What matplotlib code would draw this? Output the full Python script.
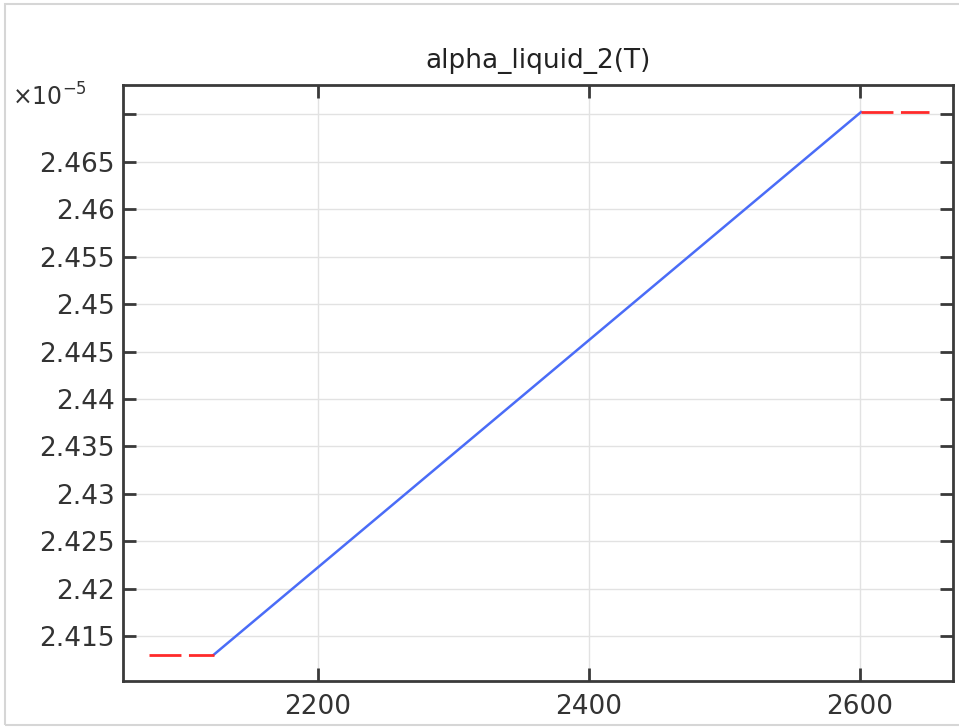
import matplotlib.pyplot as plt
from matplotlib.patches import Rectangle

# temperature breakpoints (K) and alpha values (x1e-5 1/K)
T_low = [2075, 2123]
T_mid = [2123, 2601]
T_high = [2601, 2651]
alpha_low = [2.41303, 2.41303]
alpha_mid = [2.41303, 2.47024]
alpha_high = [2.47024, 2.47024]

xticks = [2200, 2400, 2600]
yticks = [2.415, 2.42, 2.425, 2.43, 2.435, 2.44, 2.445, 2.45, 2.455, 2.46, 2.465, 2.47]
yticklabels = ["2.415", "2.42", "2.425", "2.43", "2.435", "2.44", "2.445",
               "2.45", "2.455", "2.46", "2.465", ""]

W, H = 959, 728
fig = plt.figure(figsize=(W / 100, H / 100), dpi=100)
ax = fig.add_axes([123 / W, 1 - 681 / H, (953 - 123) / W, (681 - 85) / H])

ax.plot(T_mid, alpha_mid, color="#4a6cf7", lw=1.8, zorder=3)
ax.plot(T_low, alpha_low, color="#ff2a2a", lw=2, dashes=(11.5, 2.7), zorder=3)
ax.plot(T_high, alpha_high, color="#ff2a2a", lw=2, dashes=(11.5, 2.7), zorder=3)

ax.set_xlim(2056, 2669)
ax.set_ylim(2.41026, 2.4731)
ax.set_xticks(xticks)
ax.set_xticklabels([str(t) for t in xticks])
ax.set_yticks(yticks)
ax.set_yticklabels(yticklabels)

ax.grid(True, color="#e2e2e2", lw=1)
ax.set_axisbelow(True)
for s in ax.spines.values():
    s.set_color("#3a3a3a")
    s.set_linewidth(2)
ax.tick_params(direction="in", length=9.5, width=2, color="#3a3a3a",
               labelsize=19, labelcolor="#333333", top=True, right=True)
ax.tick_params(axis="x", pad=9)
ax.tick_params(axis="y", pad=6)

ax.set_title("alpha_liquid_2(T)", fontsize=19, color="#222222", pad=12)
fig.text(12 / W, 1 - 97 / H, "×10$^{-5}$", fontsize=17, color="#333333",
         ha="left", va="center")

fig.patches.append(Rectangle((5 / W, 3 / H), 1, 1 - 7 / H, transform=fig.transFigure,
                             fill=False, edgecolor="#d6d6d6", lw=1.5))

fig.savefig("out.png", dpi=100)
